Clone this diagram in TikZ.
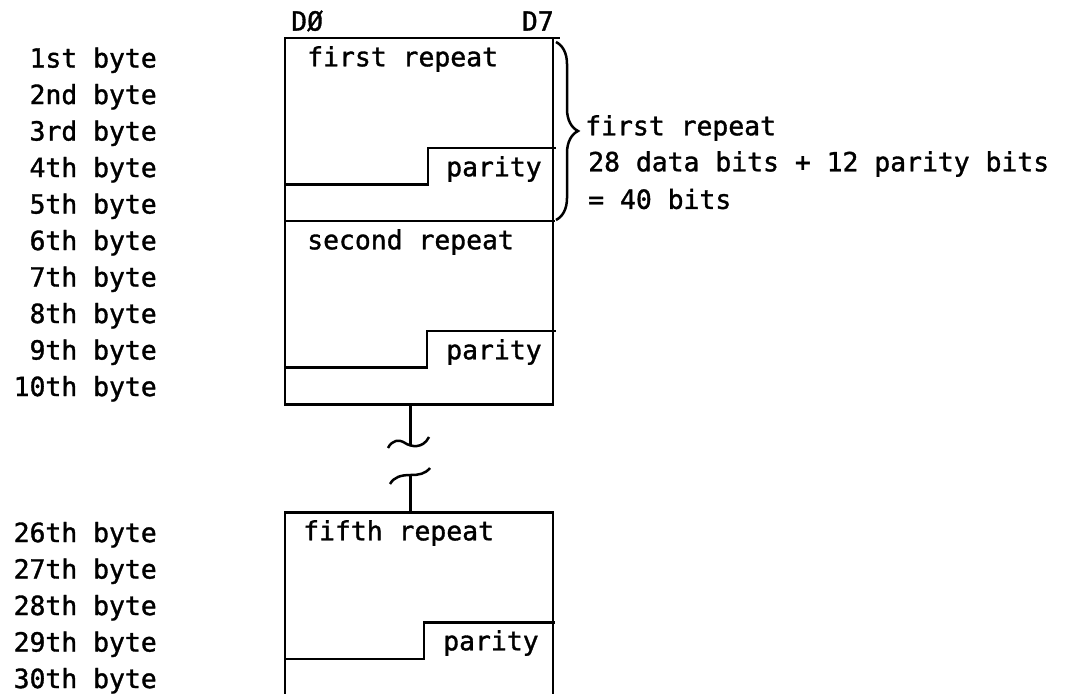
\documentclass[tikz,border=0pt]{standalone}
\usepackage{fontspec}
\newfontfamily\tyfont{DejaVu Sans Mono}[FakeBold=1.3]
\usetikzlibrary{decorations.pathreplacing}

\begin{document}
\begin{tikzpicture}[x=0.5pt, y=-0.5pt, line width=1.25pt,
    every node/.style={inner sep=0pt, font=\tyfont\fontsize{13.2}{16}\selectfont},
    bytelbl/.style={anchor=east}, boxtxt/.style={anchor=west}]
    \useasboundingbox (0,0) rectangle (1074,694);
    % byte labels
    \foreach \lbl [count=\i] in {1st,2nd,3rd,4th,5th,6th,7th,8th,9th,10th}
        \node[bytelbl] (b\i) at (158,{38+(\i-0.5)*36.5+4}) {\lbl\ byte};
    \foreach \lbl [count=\i] in {26th,27th,28th,29th,30th}
        \node[bytelbl] (c\i) at (158,{512.5+(\i-0.5)*36.5+4}) {\lbl\ byte};
    % bit numbers
    \node[boxtxt] (d0) at (290,21) {DØ};
    \node[anchor=east] (d7) at (555,21) {D7};
    % first and second repeat
    \draw (284,38) -- (560,38);
    \draw (285,38) rectangle (553,404.5);
    \draw (285,221) -- (555,221);
    \draw (285,184.5) -| (428,148) -- (556,148);
    \draw (285,367.5) -| (427,331) -- (556,331);
    \node[boxtxt] (r1) at (306,59) {first repeat};
    \node[boxtxt] (p1) at (445,169) {parity};
    \node[boxtxt] (r2) at (306,242) {second repeat};
    \node[boxtxt] (p2) at (445,352) {parity};
    % break
    \coordinate (brk1) at (410.5,404.5);
    \coordinate (brk2) at (410.5,512.5);
    \draw (brk1) -- (410.5,446);
    \draw (388,448) .. controls (392,440) and (399,439) .. (405,443)
        .. controls (411,447) and (423,449) .. (429,437);
    \draw (390,484) .. controls (394,477) and (401,475) .. (410.5,475)
        .. controls (419,475) and (425,474) .. (430,468);
    \draw (410.5,475) -- (brk2);
    % fifth repeat
    \draw (285,694) -- (285,512.5) -- (553,512.5) -- (553,694);
    \draw (285,659) -| (424,622.5) -- (555,622.5);
    \node[boxtxt] (r5) at (302,533) {fifth repeat};
    \node[boxtxt] (p5) at (442,643) {parity};
    % brace and note
    \coordinate (bt) at (556,42);
    \coordinate (bb) at (556,220);
    \draw[decorate, decoration={brace, amplitude=11pt}] (bt) -- (bb);
    \node[boxtxt] (n1) at (584,128) {first repeat};
    \node[boxtxt] (n2) at (587,164) {28 data bits + 12 parity bits};
    \node[boxtxt] (n3) at (587,199) {= 40 bits};
\end{tikzpicture}
\end{document}
